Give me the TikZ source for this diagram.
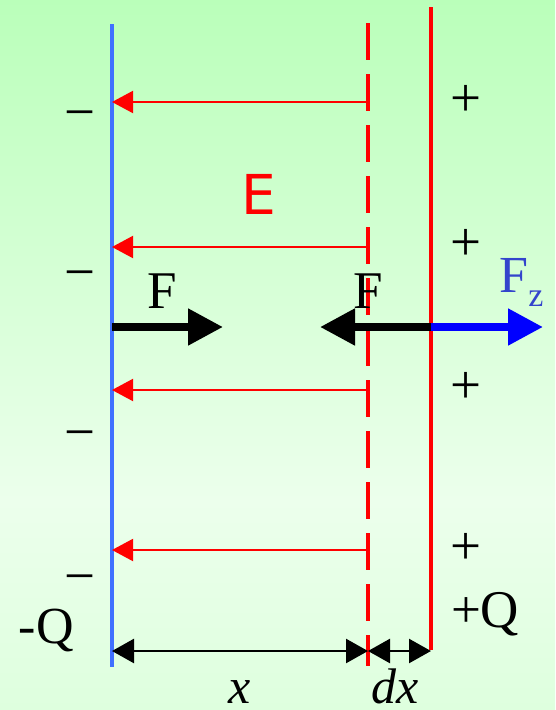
\documentclass[tikz,border=0pt]{standalone}
\usepackage{fontspec}
\setmainfont{Liberation Serif}
\newfontfamily\sansfam{DejaVu Sans}
\usetikzlibrary{arrows.meta}
\definecolor{bgtop}{RGB}{186,255,186}
\definecolor{bgmid}{RGB}{236,255,236}
\definecolor{bgbot}{RGB}{222,255,222}
\definecolor{plateblue}{RGB}{64,112,255}
\definecolor{fzblue}{RGB}{51,68,204}
\begin{document}
\begin{tikzpicture}[x=1pt,y=-1pt,
  lbl/.style={inner sep=0pt,outer sep=0pt},
  sign/.style={lbl,font=\fontsize{55}{55}\selectfont},
  plate/.style={line width=4pt},
  efield/.style={red,line width=2pt,-{Triangle[length=21pt,width=22pt]}},
  force/.style={line width=8pt,-{Triangle[length=35pt,width=35pt]}},
  dimline/.style={line width=2.5pt,{Triangle[length=22pt,width=24pt]}-{Triangle[length=22pt,width=24pt]}}]
\useasboundingbox (0,0) rectangle (555,710);
\shade[top color=bgtop,bottom color=bgmid] (0,0) rectangle (555,500.5);
\shade[top color=bgmid,bottom color=bgbot] (0,500) rectangle (555,710);
% plates
\coordinate (Btop) at (112,24);  \coordinate (Bbot) at (112,667);
\coordinate (Dtop) at (368,23);  \coordinate (Dbot) at (368,666);
\coordinate (Rtop) at (431,7);   \coordinate (Rbot) at (431,650);
\draw[plate,plateblue] (Btop) -- (Bbot);
\draw[plate,red,dash pattern=on 37pt off 14pt] (Dtop) -- (Dbot);
\draw[plate,red] (Rtop) -- (Rbot);
% field arrows
\foreach \i/\y in {1/102,2/247,3/390,4/550}{
  \coordinate (es\i) at (368,\y);
  \coordinate (ee\i) at (112,\y);
  \draw[efield] (es\i) -- (ee\i);
}
% forces
\coordinate (fl0) at (112,327); \coordinate (fl1) at (223,327);
\coordinate (fr0) at (431,327); \coordinate (fr1) at (320,327);
\coordinate (fz1) at (543,327);
\draw[force] (fl0) -- (fl1);
\draw[force] (fr0) -- (fr1);
\draw[force,blue] (fr0) -- (fz1);
% dimensions
\coordinate (d0) at (112,651); \coordinate (d1) at (368,651); \coordinate (d2) at (431,651);
\draw[dimline] (d0) -- (d1);
\draw[dimline] (d1) -- (d2);
% labels
\node[lbl,anchor=base] (FL) at (162,308) {\fontsize{53}{53}\selectfont F};
\node[lbl,anchor=base] (FR) at (368,308) {\fontsize{53}{53}\selectfont F};
\node[lbl,anchor=base west,text=fzblue] (FZ) at (499.4,292) {\fontsize{52}{52}\selectfont F\raisebox{-14pt}{\fontsize{34}{34}\selectfont z}};
\node[lbl,anchor=base,text=red] (E) at (258.5,214) {\sansfam\fontsize{55}{55}\selectfont E};
\foreach \i/\y in {1/130,2/290,3/450,4/594}{
  \node[sign,anchor=base] (m\i) at (80,\y) {−};
}
\foreach \i/\y in {1/101,2/245,3/388,4/549}{
  \node[sign,anchor=center] (p\i) at (466,\y) {+};
}
\node[lbl,anchor=base west] (QL) at (19,643) {\fontsize{52}{52}\selectfont -Q};
\node[lbl,anchor=base west] (QR) at (451,627) {\fontsize{53}{53}\selectfont +Q};
\node[lbl,anchor=base west] (X) at (228.5,703) {\fontsize{50}{50}\selectfont\itshape x};
\node[lbl,anchor=base west] (DX) at (371,703) {\fontsize{50}{50}\selectfont\itshape dx};
\end{tikzpicture}
\end{document}
